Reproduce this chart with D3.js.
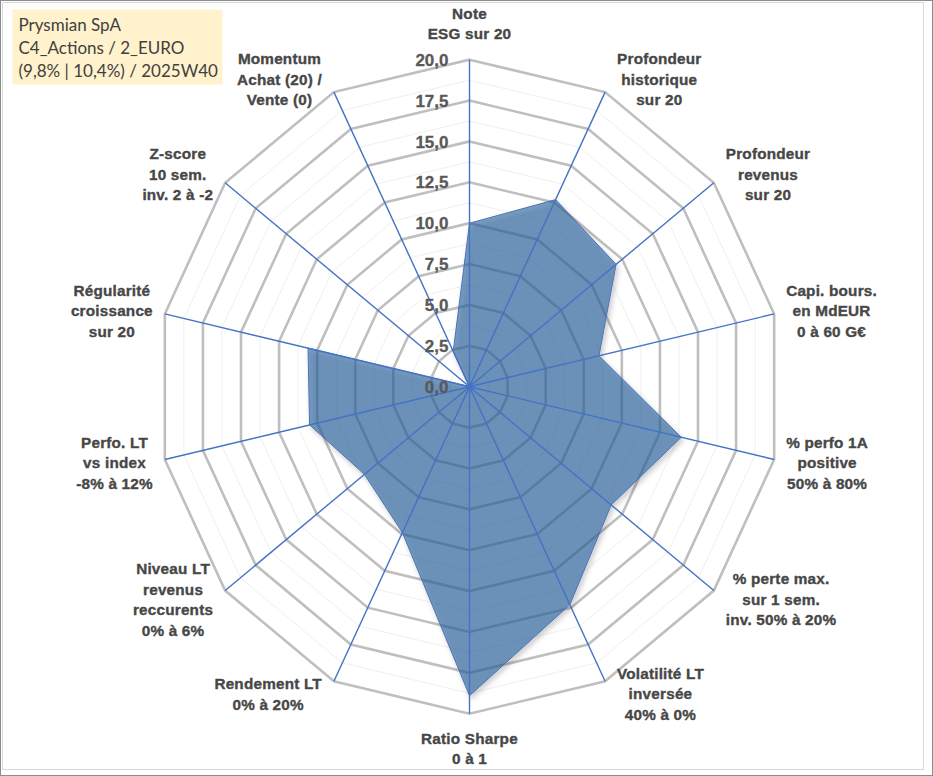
<!DOCTYPE html>
<html lang="fr">
<head>
  <meta charset="UTF-8">
  <title>Prysmian SpA - radar</title>
  <style>
    html, body { margin: 0; padding: 0; background: #fff; }
    svg { display: block; }
    .axis-label { font-family: "Liberation Sans", Arial, sans-serif; font-weight: bold; font-size: 15.3px; fill: #474747; stroke: #474747; stroke-width: 0.35px; letter-spacing: 0.2px; }
    .tick-label { font-family: "Liberation Sans", Arial, sans-serif; font-weight: bold; font-size: 17px; fill: #595959; stroke: #595959; stroke-width: 0.3px; }
    .legend-text { font-family: Lato, "Open Sans", sans-serif; font-size: 17px; fill: #404040; }
  </style>
</head>
<body>
  <svg id="chart"></svg>
  <script src="https://d3js.org/d3.v7.min.js"></script>
  <script>
    // Axis names (one entry per spoke, split into lines)
    const axisLabels = [
      ["Note", "ESG sur 20"],
      ["Profondeur", "historique", "sur 20"],
      ["Profondeur", "revenus", "sur 20"],
      ["Capi. bours.", "en MdEUR", "0 à 60 G€"],
      ["% perfo 1A", "positive", "50% à 80%"],
      ["% perte max.", "sur 1 sem.", "inv. 50% à 20%"],
      ["Volatilité LT", "inversée", "40% à 0%"],
      ["Ratio Sharpe", "0 à 1"],
      ["Rendement LT", "0% à 20%"],
      ["Niveau LT", "revenus", "reccurents", "0% à 6%"],
      ["Perfo. LT", "vs index", "-8% à 12%"],
      ["Régularité", "croissance", "sur 20"],
      ["Z-score", "10 sem.", "inv. 2 à -2"],
      ["Momentum", "Achat (20) /", "Vente (0)"]
    ];

    // Scores (0..20)
    const scores = [10.0, 12.7, 12.0, 8.5, 13.9, 11.6, 14.8, 18.9, 9.9, 8.6, 10.5, 10.6, 0.0, 2.4];

    // Radial ticks
    const majorTicks = [0, 2.5, 5, 7.5, 10, 12.5, 15, 17.5, 20];
    const minorTicks = [1.25, 3.75, 6.25, 8.75, 11.25, 13.75, 16.25, 18.75];

    const legendLines = ["Prysmian SpA", "C4_Actions / 2_EURO", "(9,8% | 10,4%) / 2025W40"];

    const width = 933, height = 776;
    const cx = 469.5, cy = 386.7;
    const n = axisLabels.length;

    const fr = d3.formatLocale({ decimal: ",", thousands: " ", grouping: [3], currency: ["", " €"] });
    const fmt = fr.format(".1f");

    const svg = d3.select("#chart").attr("width", width).attr("height", height);

    // frame
    svg.append("rect").attr("x", 0.5).attr("y", 0.5).attr("width", width - 1).attr("height", height - 1)
      .attr("fill", "#fff").attr("stroke", "#8c8c8c");
    svg.append("rect").attr("x", 2.5).attr("y", 2.5).attr("width", 921).attr("height", 767)
      .attr("fill", "none").attr("stroke", "#d9d9d9");

    const defs = svg.append("defs");
    defs.append("filter").attr("id", "shadow").attr("x", "-10%").attr("y", "-10%").attr("width", "120%").attr("height", "120%")
      .append("feDropShadow").attr("dx", 2).attr("dy", 3).attr("stdDeviation", 2.5)
      .attr("flood-color", "#000").attr("flood-opacity", 0.3);

    // scales
    const angle = d3.scaleLinear().domain([0, n]).range([0, 2 * Math.PI]);
    const rx = d3.scaleLinear().domain([0, 20]).range([0, 312.5]);
    const ry = d3.scaleLinear().domain([0, 20]).range([0, 327]);

    const px = (i, v) => cx + rx(v) * Math.sin(angle(i));
    const py = (i, v) => cy - ry(v) * Math.cos(angle(i));

    const idx = d3.range(n);
    const ringPath = v => d3.line()(idx.map(i => [px(i, v), py(i, v)])) + "Z";

    const g = svg.append("g");

    // minor rings
    g.selectAll(".minor").data(minorTicks).join("path")
      .attr("class", "minor")
      .attr("d", ringPath)
      .attr("fill", "none").attr("stroke", "#efefef").attr("stroke-width", 1);

    // major rings
    g.selectAll(".major").data(majorTicks.filter(t => t > 0)).join("path")
      .attr("class", "major")
      .attr("d", ringPath)
      .attr("fill", "none").attr("stroke", "#bfbfbf").attr("stroke-width", 2.6)
      .attr("stroke-linejoin", "miter");

    // series polygon
    g.append("path")
      .attr("d", d3.line()(scores.map((v, i) => [px(i, v), py(i, v)])) + "Z")
      .attr("fill", "rgb(42,96,156)").attr("fill-opacity", 0.6)
      .attr("stroke", "#4a72b8").attr("stroke-width", 1)
      .attr("filter", "url(#shadow)");

    // spokes
    g.selectAll(".spoke").data(idx).join("line")
      .attr("class", "spoke")
      .attr("x1", cx).attr("y1", cy)
      .attr("x2", i => px(i, 20)).attr("y2", i => py(i, 20))
      .attr("stroke", "#4472c4").attr("stroke-width", 1.4);

    // tick labels along the top spoke
    g.selectAll(".tick-label").data(majorTicks).join("text")
      .attr("class", "tick-label")
      .attr("x", cx - 21)
      .attr("y", t => py(0, t))
      .attr("dy", "0.36em")
      .attr("text-anchor", "end")
      .text(fmt);

    // axis labels
    const lh = 20.5, gap = 12;
    idx.forEach(i => {
      const a = angle(i);
      const s = Math.sin(a), c = Math.cos(a);
      const vx = px(i, 20), vy = py(i, 20);
      const lines = axisLabels[i];
      const t = g.append("text").attr("class", "axis-label").attr("text-anchor", "middle");
      const spans = lines.map(l => t.append("tspan").text(l));
      const w = d3.max(spans, sp => sp.node().getComputedTextLength());
      let xc, yc;
      if (Math.abs(s) < 0.01) {
        xc = vx;
        const half = (lines.length - 1) * lh / 2;
        yc = c > 0 ? vy - 26 - half : vy + 24.5 + half;
      } else {
        xc = vx + Math.sign(s) * (gap + w / 2);
        yc = vy - c * 14;
      }
      spans.forEach((sp, k) => {
        sp.attr("x", xc).attr("y", yc + (k - (lines.length - 1) / 2) * lh).attr("dy", "0.36em");
      });
    });

    // legend box
    const lg = svg.append("g");
    lg.append("rect").attr("x", 12.5).attr("y", 9.5).attr("width", 210).attr("height", 75)
      .attr("fill", "#fff2cc");
    lg.selectAll("text").data(legendLines).join("text")
      .attr("class", "legend-text")
      .attr("x", 18.5)
      .attr("y", (d, k) => 25 + k * 22.8)
      .attr("dy", "0.36em")
      .text(d => d);
  </script>
</body>
</html>
